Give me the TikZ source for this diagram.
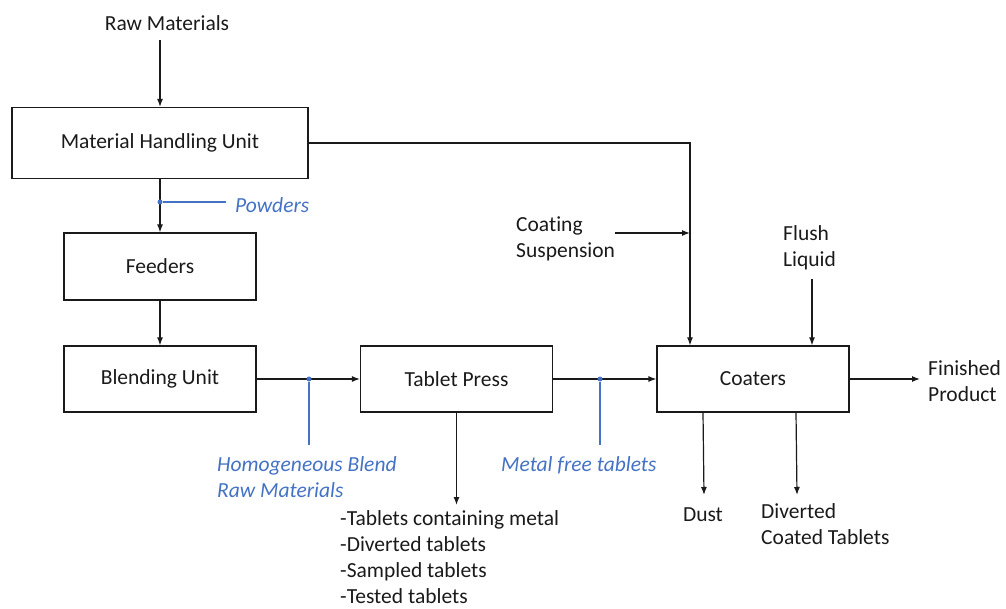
\documentclass[tikz,border=0pt]{standalone}
\usepackage{fontspec}
\setmainfont{Carlito}[Ligatures=NoCommon]
\usetikzlibrary{arrows.meta,calc}
\definecolor{flowblue}{HTML}{4472C4}
\definecolor{ink}{HTML}{1A1A1A}
\begin{document}
\begin{tikzpicture}[x=1pt,y=-1pt,
  font=\fontsize{21.5}{26}\selectfont,
  unit/.style={draw=ink,line width=1.2pt,minimum width=192pt,minimum height=66pt,inner sep=0pt,text=ink},
  lbl/.style={inner sep=0pt,text=ink,align=left},
  bluelbl/.style={inner sep=0pt,text=flowblue,align=left,font=\fontsize{21.5}{26}\selectfont\itshape},
  flow/.style={draw=ink,line width=1.2pt,-{Latex[length=8pt,width=6pt]}},
  tap/.style={draw=flowblue,line width=1.2pt},
  dot/.style={fill=flowblue,circle,inner sep=0pt,minimum size=5pt}]
% page frame
\useasboundingbox (0,0) rectangle (1006,609);

% process units
\node[unit,minimum width=296pt,minimum height=71pt] (mhu) at (160,143) {Material Handling Unit};
\node[unit,minimum height=67pt] (feed) at (160,266.5) {Feeders};
\node[unit] (blend) at (160,379) {Blending Unit};
\node[unit] (press) at (456.5,379) {Tablet Press};
\node[unit] (coat) at (753,379) {Coaters};

% stream labels
\node[lbl] (raw) at (167,23) {Raw Materials};
\node[bluelbl,anchor=west] (powd) at (235,205) {Powders};
\node[bluelbl,anchor=west] (homo) at (217,477) {Homogeneous Blend\\Raw Materials};
\node[bluelbl,anchor=west] (mfree) at (501,465) {Metal free tablets};
\node[lbl,anchor=west] (rej) at (340,557) {-Tablets containing metal\\-Diverted tablets\\-Sampled tablets\\-Tested tablets};
\node[lbl,anchor=west] (susp) at (516,239) {Coating\\Suspension};
\node[lbl,anchor=west] (flush) at (783,248) {Flush\\Liquid};
\node[lbl,anchor=west] (fin) at (928,381) {Finished\\Product};
\node[lbl] (dust) at (703,515) {Dust};
\node[lbl,anchor=west] (dct) at (761,524) {Diverted\\Coated Tablets};

% junction points
\coordinate (rawend) at (160,40);
\coordinate (corner) at (690,143);
\coordinate (suspjoin) at (690,233);
\coordinate (suspstart) at (615,233);
\coordinate (flushstart) at (812,279);
\coordinate (pressout) at (456.5,505);
\coordinate (dustend) at (704,495);
\coordinate (dctend) at (797,495);
\coordinate (finend) at (920,379);

% main flows
\draw[flow] (rawend) -- (mhu.north);
\draw[flow] (mhu.south) -- (feed.north);
\draw[flow] (feed.south) -- (blend.north);
\draw[flow] (blend.east) -- (press.west);
\draw[flow] (press.east) -- (coat.west);
\draw[flow] (press.south) -- (pressout);
\draw[flow] (mhu.east |- corner) -- (corner) -- (coat.north -| corner);
\draw[flow] (suspstart) -- (suspjoin);
\draw[flow] (flushstart) -- (coat.north -| flushstart);
\draw[flow] (coat.east) -- (finend);
\draw[flow] (coat.south -| 703,0) -- (dustend);
\draw[flow] (coat.south -| 796,0) -- (dctend);

% sampling taps
\node[dot] (p1) at (160,202) {};
\draw[tap] (p1) -- (226,202);
\node[dot] (p2) at (309,379) {};
\draw[tap] (p2) -- (309,445);
\node[dot] (p3) at (600,379) {};
\draw[tap] (p3) -- (600,445);
\end{tikzpicture}
\end{document}
